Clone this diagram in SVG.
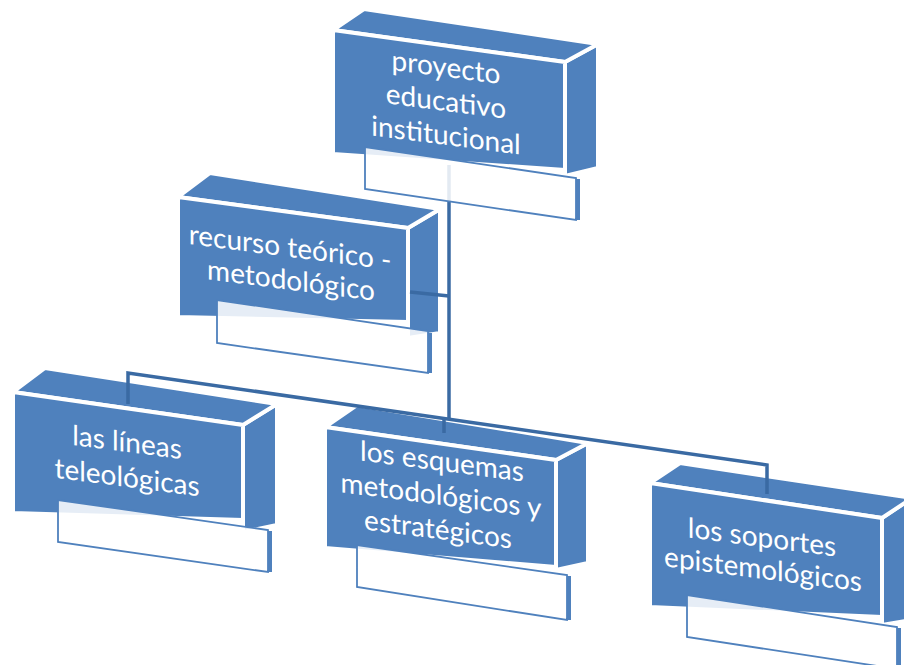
<svg xmlns="http://www.w3.org/2000/svg" width="904" height="665" viewBox="0 0 904 665">
<style>
.face{fill:#4f81bd;stroke:#fff;stroke-width:4;stroke-linejoin:miter}
.lbl{fill:#fff;fill-opacity:0.86;stroke:#4f81bd;stroke-width:1.8}
.edge{fill:none;stroke:#4f81bd;stroke-width:4}
.t{font-family:Lato,"Open Sans","Liberation Sans",sans-serif;font-size:28px;fill:#fff;text-anchor:middle}
.con{fill:none;stroke:#3a6aa3;stroke-width:3.5;stroke-linecap:butt}
</style>
<rect width="904" height="665" fill="#fff"/>
<g id="node-recurso">
<polygon class="face" points="408,228 440,209 440,333 408,338"/>
<polygon class="face" points="178,197 210,173 440,209 408,228"/>
<polygon class="face" points="178,197 408,228 408,322 178,317"/>
<polygon class="lbl" points="217,300 428,331 428,373 217,343"/>
<line class="edge" x1="430" y1="333" x2="430" y2="373"/>
<text class="t" transform="translate(290,257) skewY(7.3)">recurso teórico -</text>
<text class="t" transform="translate(291,290) skewY(7.3)">metodológico</text>
</g>
<g id="node-lineas">
<polygon class="face" points="243,425 277,404 277,525 243,532"/>
<polygon class="face" points="13,392 45,368 277,404 243,425"/>
<polygon class="face" points="13,392 243,425 243,520 13,513"/>
<polygon class="lbl" points="58,500 268,530 268,572 58,542"/>
<line class="edge" x1="270" y1="531" x2="270" y2="572"/>
<text class="t" transform="translate(127,452) skewY(7.3)">las líneas</text>
<text class="t" transform="translate(127,487) skewY(7.3)">teleológicas</text>
</g>
<g id="node-esquemas">
<polygon class="face" points="556,460 588,443 588,563 556,570"/>
<polygon class="face" points="325,427 357,405 588,443 556,460"/>
<polygon class="face" points="325,427 556,460 556,567 325,548"/>
<polygon class="lbl" points="357,545 567,575 567,620 357,587"/>
<line class="edge" x1="569" y1="576" x2="569" y2="620"/>
<text class="t" transform="translate(442,471) skewY(7.3)">los esquemas</text>
<text class="t" transform="translate(441,505) skewY(7.3)">metodológicos y</text>
<text class="t" transform="translate(438,539) skewY(7.3)">estratégicos</text>
</g>
<g id="node-soportes">
<polygon class="face" points="882,518 912,498 912,620 882,625"/>
<polygon class="face" points="650,483 680,463 912,498 882,518"/>
<polygon class="face" points="650,483 882,518 882,617 650,607"/>
<polygon class="lbl" points="687,595 897,627 897,669 687,637"/>
<line class="edge" x1="899" y1="628" x2="899" y2="669"/>
<text class="t" transform="translate(762,547) skewY(7.3)">los soportes</text>
<text class="t" transform="translate(763,579) skewY(7.3)">epistemológicos</text>
</g>
<g id="connectors">
<line class="con" x1="449" y1="165" x2="449" y2="420"/>
<line class="con" x1="410" y1="292" x2="449" y2="296"/>
<polyline class="con" points="128,404 128,373 767,465 767,494"/>
<line class="con" x1="444" y1="419" x2="444" y2="433"/>
</g>
<g id="node-proyecto">
<polygon class="face" points="565,62 598,44 598,168 565,176"/>
<polygon class="face" points="333,30 364,9 598,44 565,62"/>
<polygon class="face" points="333,30 565,62 565,170 333,154"/>
<polygon class="lbl" points="365,147 576,178 576,220 365,189"/>
<line class="edge" x1="578" y1="179" x2="578" y2="220"/>
<text class="t" transform="translate(446,77) skewY(7.3)">proyecto</text>
<text class="t" transform="translate(446,111) skewY(7.3)">educativo</text>
<text class="t" transform="translate(446,145) skewY(7.3)">institucional</text>
</g>
</svg>
